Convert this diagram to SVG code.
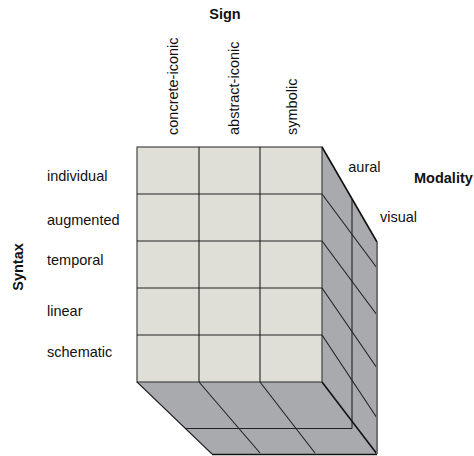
<svg xmlns="http://www.w3.org/2000/svg" width="474" height="456" viewBox="0 0 474 456">
<style>
text{font-family:"Liberation Sans",Arial,sans-serif;font-size:14.5px;fill:#111}
.b{font-weight:bold}
.front{fill:#dfdfd8;stroke:#444;stroke-width:1.2}
.side{fill:#a8aaae;stroke:none}
.g{stroke:#222;stroke-width:1.1;fill:none}
.t{stroke:#111;stroke-width:1.6;fill:none}
.e{stroke:#6f7073;stroke-width:2;fill:none}
</style>
<rect width="474" height="456" fill="#fff"/>
<g id="cube">
  <g id="side-faces">
    <polygon class="side" points="322,147 377,242 377,454 322,382"/>
    <polygon class="side" points="137,382 322,382 377,454 212,454"/>
  </g>
  <g id="front-face">
    <rect class="front" x="137" y="147" width="185" height="235"/>
  </g>
  <g id="connectors">
    <line class="g" x1="199" y1="147" x2="199" y2="382"/>
    <line class="g" x1="260" y1="147" x2="260" y2="382"/>
    <line class="g" x1="137" y1="194" x2="322" y2="194"/>
    <line class="g" x1="137" y1="241" x2="322" y2="241"/>
    <line class="g" x1="137" y1="288" x2="322" y2="288"/>
    <line class="g" x1="137" y1="335" x2="322" y2="335"/>
    <line class="g" x1="322" y1="194" x2="377" y2="268"/>
    <line class="g" x1="322" y1="241" x2="377" y2="315"/>
    <line class="g" x1="322" y1="288" x2="377" y2="368"/>
    <line class="g" x1="322" y1="335" x2="377" y2="418"/>
    <line class="g" x1="352" y1="199" x2="352" y2="428.5"/>
    <line class="g" x1="185" y1="428.5" x2="352" y2="428.5"/>
    <line class="g" x1="199" y1="382" x2="260" y2="453"/>
    <line class="g" x1="260" y1="382" x2="315" y2="453"/>
    <line class="g" x1="137" y1="382" x2="212" y2="454"/>
    <line class="t" x1="322" y1="147" x2="377" y2="242"/>
    <line class="t" x1="322" y1="382" x2="377" y2="454"/>
    <line class="e" x1="377" y1="242" x2="377" y2="454"/>
    <line class="t" x1="212" y1="454.5" x2="377" y2="454.5"/>
  </g>
</g>
<g id="sign-axis">
  <text class="b" x="225" y="18.5" text-anchor="middle" font-size="14">Sign</text>
  <text transform="translate(178.3,135) rotate(-90)">concrete-iconic</text>
  <text transform="translate(238.5,135) rotate(-90)">abstract-iconic</text>
  <text transform="translate(297.3,135) rotate(-90)">symbolic</text>
</g>
<g id="syntax-axis">
  <text class="b" transform="translate(22.5,267) rotate(-90)" text-anchor="middle">Syntax</text>
  <text x="47" y="181">individual</text>
  <text x="47" y="225">augmented</text>
  <text x="47" y="265">temporal</text>
  <text x="47" y="315.5">linear</text>
  <text x="47" y="356.5">schematic</text>
</g>
<g id="modality-axis">
  <text x="348.3" y="172">aural</text>
  <text x="380" y="221.7">visual</text>
  <text class="b" x="414" y="183">Modality</text>
</g>
</svg>
